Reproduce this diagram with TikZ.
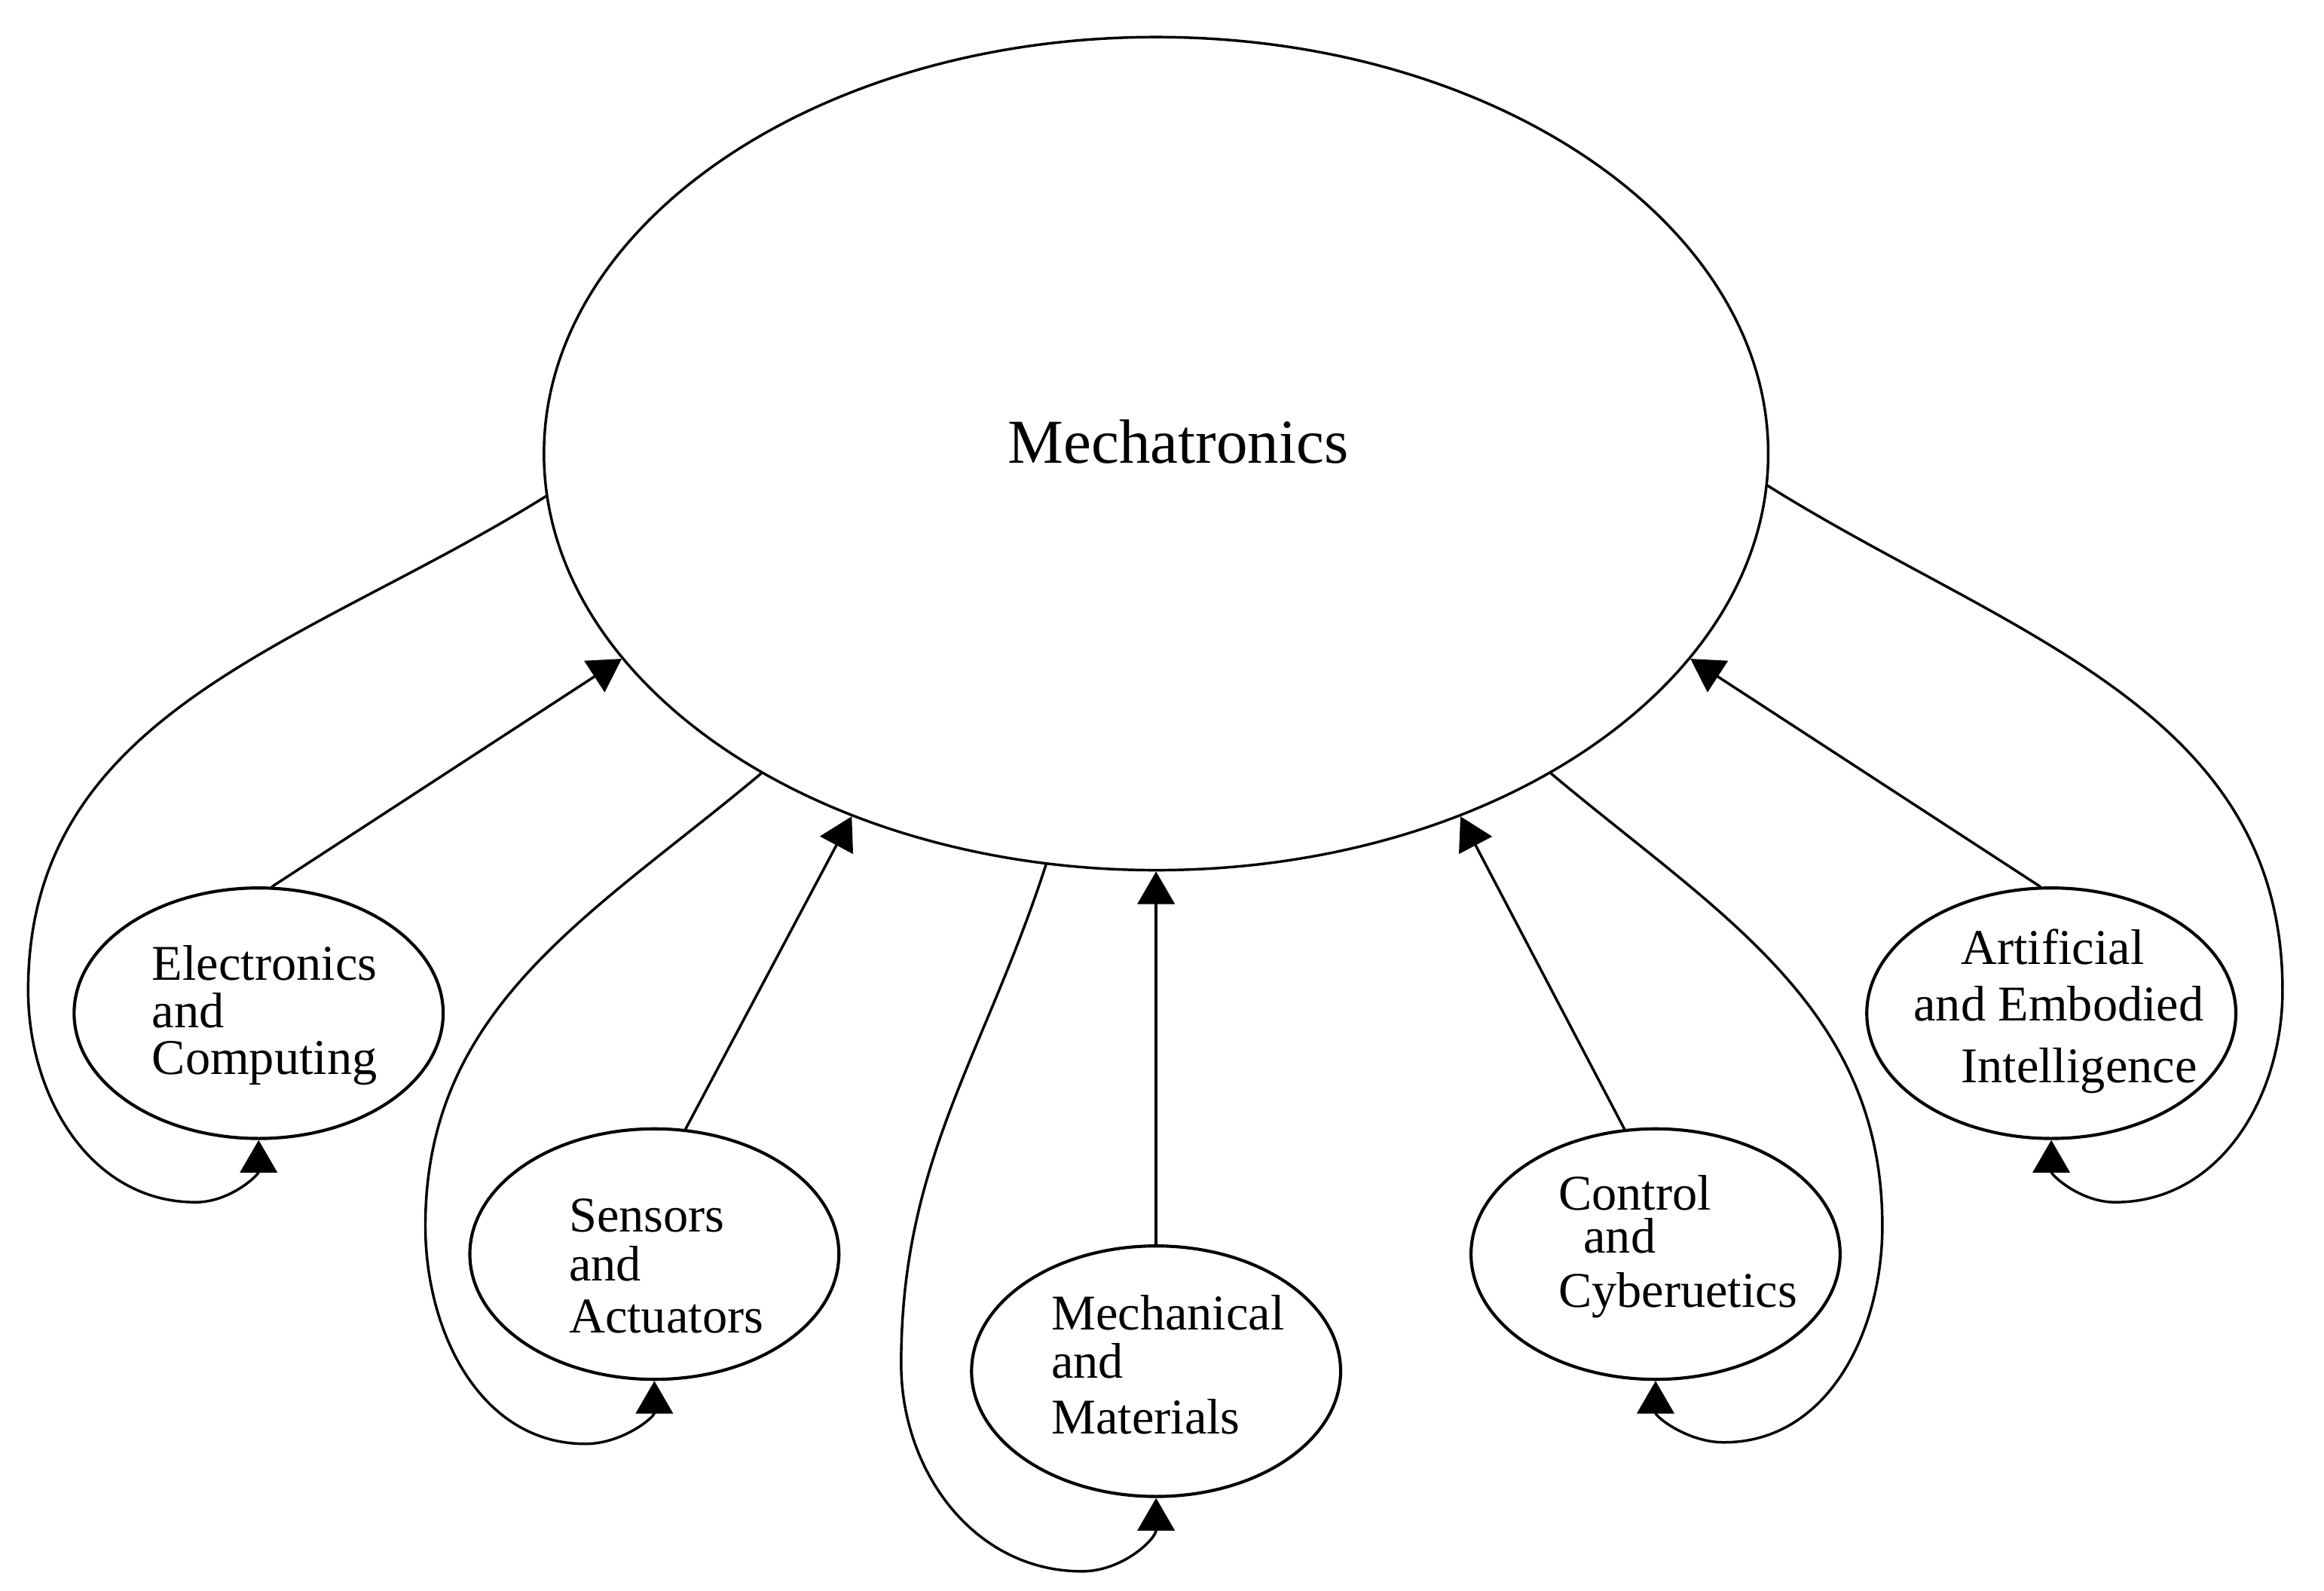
\documentclass[tikz,border=0pt]{standalone}
\usepackage{fontspec}
\setmainfont{Liberation Serif}
\usetikzlibrary{shapes.geometric,arrows.meta}
\begin{document}
\begin{tikzpicture}[x=1cm,y=1cm,line cap=round,line join=round,
  hub/.style={ellipse,draw,line width=0.5pt,minimum width=8.26cm,minimum height=5.62cm,inner sep=0pt},
  topic/.style={ellipse,draw,line width=0.6pt,minimum width=2.49cm,minimum height=1.69cm,inner sep=0pt},
  lbl/.style={align=left,inner sep=0pt,font=\fontsize{9.6}{9}\selectfont},
  feed/.style={line width=0.5pt,-{Triangle[length=2.2mm,width=2.5mm]}}]
  \useasboundingbox (0,0) rectangle (15.68,-10.73);

  \node[hub] (mtx) at (7.80,-3.06) {};
  \node[font=\fontsize{12}{14}\selectfont,inner sep=0pt] (mtx-txt) at ([shift={(0.15,0.08)}]mtx.center) {Mechatronics};

  \node[topic] (elec) at (1.745,-6.835) {};
  \node[topic] (sens) at (4.415,-8.46) {};
  \node[topic] (mat) at (7.80,-9.25) {};
  \node[topic] (ctrl) at (11.17,-8.46) {};
  \node[topic] (ai) at (13.84,-6.835) {};

  \node[lbl] (elec-txt) at ([shift={(0.04,-0.015)}]elec) {Electronics\\and\\Computing};
  \node[lbl] (sens-txt) at ([shift={(0.08,-0.08)}]sens) {Sensors\\[0.4pt]and\\[1pt]Actuators};
  \node[lbl] (mat-txt) at ([shift={(0.08,0.045)}]mat) {Mechanical\\[0.3pt]and\\[1.6pt]Materials};
  \node[lbl] (ctrl-txt) at ([shift={(0.15,0.05)}]ctrl) {Control\\[-0.8pt]\hspace*{0.17cm}and\\[1.5pt]Cyberuetics};
  \node[lbl] (ai-txt) at ([shift={(0.05,0.015)}]ai) {\hspace*{0.32cm}Artificial\\[1.9pt]and Embodied\\[2.8pt]\hspace*{0.32cm}Intelligence};

  % each field feeds mechatronics
  \draw[feed] (elec.84) -- (mtx.201);
  \draw[feed] (sens.76) -- (mtx.230);
  \draw[feed] (mat.north) -- (mtx.south);
  \draw[feed] (ctrl.104) -- (mtx.310);
  \draw[feed] (ai.95) -- (mtx.339);

  % and mechatronics feeds back into each field
  \draw[feed] (mtx.184) to[out=212,in=90] (0.19,-6.68) to[out=270,in=180] (1.32,-8.11) to[out=0,in=270] (elec.south);
  \draw[feed] (mtx.219) to[out=220,in=90] (2.87,-8.27) to[out=270,in=180] (3.95,-9.74) to[out=0,in=270] (sens.south);
  \draw[feed] (mtx.255) to[out=252,in=90] (6.08,-9.20) to[out=270,in=180] (7.30,-10.60) to[out=0,in=270] (mat.south);
  \draw[feed] (mtx.321) to[out=-40,in=90] (12.70,-8.27) to[out=270,in=0] (11.63,-9.73) to[out=180,in=270] (ctrl.south);
  \draw[feed] (mtx.357) to[out=-32,in=90] (15.40,-6.68) to[out=270,in=0] (14.27,-8.11) to[out=180,in=270] (ai.south);
\end{tikzpicture}
\end{document}
